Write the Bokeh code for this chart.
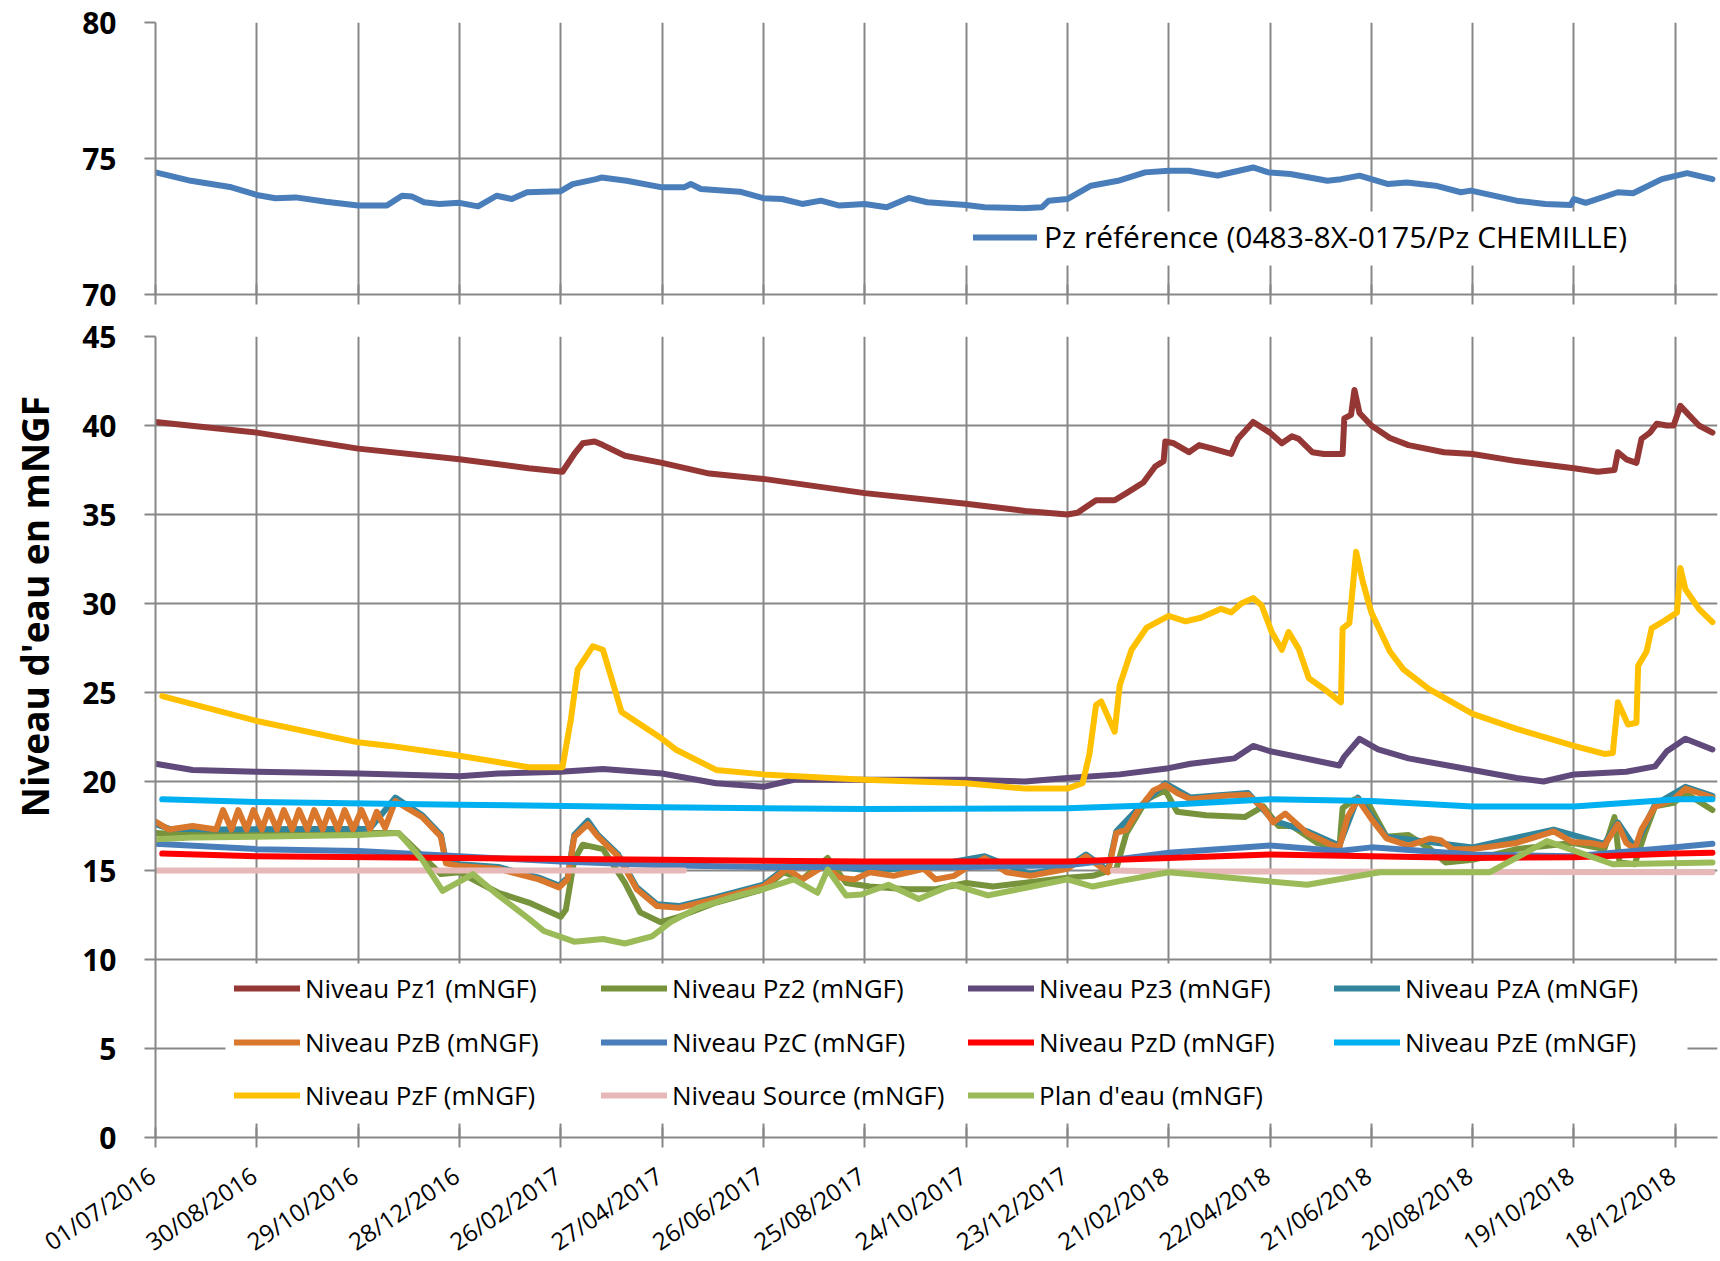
import pandas as pd
from math import pi, radians
from bokeh.plotting import figure
from bokeh.models import (FixedTicker, DatetimeTickFormatter, Range1d, Legend, LegendItem,
                          BoxAnnotation, Label)
from bokeh.core.properties import value
from bokeh.layouts import column, row
from bokeh.embed import file_html
from bokeh.resources import INLINE

# ---------------- data ----------------
tick_labels = ["01/07/2016", "30/08/2016", "29/10/2016", "28/12/2016", "26/02/2017", "27/04/2017",
               "26/06/2017", "25/08/2017", "24/10/2017", "23/12/2017", "21/02/2018", "22/04/2018",
               "21/06/2018", "20/08/2018", "19/10/2018", "18/12/2018"]
x_start, x_end = "01/07/2016", "12/01/2019"

ref_dates = ["01/07/2016", "22/07/2016", "15/08/2016", "30/08/2016", "10/09/2016", "22/09/2016", "10/10/2016",
             "29/10/2016", "15/11/2016", "24/11/2016", "30/11/2016", "07/12/2016", "16/12/2016", "28/12/2016",
             "08/01/2017", "19/01/2017", "28/01/2017", "06/02/2017", "26/02/2017", "05/03/2017", "19/03/2017",
             "22/03/2017", "06/04/2017", "27/04/2017", "10/05/2017", "14/05/2017", "20/05/2017", "12/06/2017",
             "26/06/2017", "07/07/2017", "19/07/2017", "30/07/2017", "10/08/2017", "25/08/2017", "07/09/2017",
             "20/09/2017", "01/10/2017", "24/10/2017", "04/11/2017", "27/11/2017", "08/12/2017", "12/12/2017",
             "23/12/2017", "06/01/2018", "22/01/2018", "07/02/2018", "21/02/2018", "05/03/2018", "22/03/2018",
             "26/03/2018", "12/04/2018", "21/04/2018", "04/05/2018", "26/05/2018", "03/06/2018", "14/06/2018",
             "01/07/2018", "12/07/2018", "29/07/2018", "13/08/2018", "19/08/2018", "15/09/2018", "02/10/2018",
             "17/10/2018", "19/10/2018", "26/10/2018", "14/11/2018", "23/11/2018", "10/12/2018", "25/12/2018",
             "09/01/2019"]
ref_values = [74.49, 74.18, 73.94, 73.66, 73.54, 73.57, 73.41,
              73.27, 73.27, 73.63, 73.60, 73.39, 73.33, 73.37,
              73.24, 73.63, 73.51, 73.76, 73.80, 74.06, 74.24,
              74.30, 74.18, 73.94, 73.94, 74.06, 73.88, 73.78,
              73.54, 73.51, 73.33, 73.45, 73.27, 73.33, 73.21,
              73.55, 73.39, 73.29, 73.21, 73.17, 73.21, 73.45,
              73.51, 74.00, 74.18, 74.49, 74.55, 74.55, 74.37,
              74.43, 74.67, 74.49, 74.43, 74.18, 74.24, 74.37,
              74.06, 74.12, 74.00, 73.76, 73.82, 73.45, 73.33,
              73.29, 73.51, 73.37, 73.76, 73.72, 74.24, 74.46,
              74.24]

pz1_dates = ["01/07/2016", "30/08/2016", "29/10/2016", "28/12/2016", "07/02/2017", "27/02/2017", "06/03/2017",
             "11/03/2017", "18/03/2017", "23/03/2017", "05/04/2017", "27/04/2017", "25/05/2017", "26/06/2017",
             "25/08/2017", "24/10/2017", "28/11/2017", "23/12/2017", "29/12/2017", "09/01/2018", "20/01/2018",
             "27/01/2018", "06/02/2018", "13/02/2018", "18/02/2018", "19/02/2018", "24/02/2018", "05/03/2018",
             "11/03/2018", "19/03/2018", "30/03/2018", "03/04/2018", "12/04/2018", "22/04/2018", "29/04/2018",
             "05/05/2018", "09/05/2018", "17/05/2018", "24/05/2018", "04/06/2018", "05/06/2018", "09/06/2018",
             "11/06/2018", "14/06/2018", "21/06/2018", "02/07/2018", "13/07/2018", "03/08/2018", "20/08/2018",
             "15/09/2018", "19/10/2018", "02/11/2018", "12/11/2018", "14/11/2018", "19/11/2018", "25/11/2018",
             "28/11/2018", "03/12/2018", "07/12/2018", "13/12/2018", "17/12/2018", "21/12/2018", "26/12/2018",
             "01/01/2019", "09/01/2019"]
pz1_values = [40.2, 39.6, 38.7, 38.1, 37.6, 37.4, 38.4,
              39.0, 39.1, 38.9, 38.3, 37.9, 37.3, 37.0,
              36.2, 35.6, 35.2, 35.0, 35.1, 35.8, 35.8,
              36.2, 36.8, 37.7, 38.0, 39.1, 39.0, 38.5,
              38.9, 38.7, 38.4, 39.25, 40.2, 39.6, 39.0,
              39.4, 39.25, 38.5, 38.4, 38.4, 40.4, 40.6,
              42.0, 40.7, 40.0, 39.3, 38.9, 38.5, 38.4,
              38.0, 37.6, 37.4, 37.5, 38.5, 38.1, 37.9,
              39.25, 39.6, 40.1, 40.0, 40.0, 41.1, 40.6,
              40.0, 39.6]

pz2_dates = ["01/07/2016", "23/07/2016", "30/08/2016", "29/10/2016", "22/11/2016", "06/12/2016", "17/12/2016",
             "28/12/2016", "20/01/2017", "07/02/2017", "26/02/2017", "01/03/2017", "06/03/2017", "11/03/2017",
             "23/03/2017", "05/04/2017", "14/04/2017", "26/04/2017", "07/05/2017", "29/05/2017", "26/06/2017",
             "08/07/2017", "19/07/2017", "03/08/2017", "14/08/2017", "28/08/2017", "19/09/2017", "06/10/2017",
             "24/10/2017", "09/11/2017", "27/11/2017", "23/12/2017", "07/01/2018", "21/01/2018", "27/01/2018",
             "08/02/2018", "19/02/2018", "26/02/2018", "15/03/2018", "07/04/2018", "18/04/2018", "27/04/2018",
             "05/05/2018", "20/05/2018", "02/06/2018", "04/06/2018", "11/06/2018", "19/06/2018", "30/06/2018",
             "13/07/2018", "26/07/2018", "04/08/2018", "20/08/2018", "15/09/2018", "18/10/2018", "06/11/2018",
             "12/11/2018", "15/11/2018", "24/11/2018", "30/11/2018", "06/12/2018", "17/12/2018", "24/12/2018",
             "09/01/2019"]
pz2_values = [17.1, 17.0, 17.05, 17.1, 17.1, 15.8, 14.8,
              14.9, 13.75, 13.2, 12.4, 12.8, 15.6, 16.45,
              16.2, 14.3, 12.65, 12.1, 12.4, 13.2, 13.95,
              14.9, 14.5, 15.7, 14.3, 14.1, 13.95, 13.95,
              14.3, 14.1, 14.3, 14.6, 14.7, 15.1, 17.1,
              19.0, 19.5, 18.3, 18.1, 18.0, 18.6, 17.5,
              17.5, 16.55, 16.2, 18.5, 19.0, 18.8, 16.9,
              17.0, 16.2, 15.45, 15.6, 16.2, 16.55, 16.2,
              18.0, 15.45, 15.35, 17.1, 18.6, 18.8, 19.35,
              18.4]

pz3_dates = ["01/07/2016", "23/07/2016", "30/08/2016", "29/10/2016", "28/12/2016", "20/01/2017", "26/02/2017",
             "23/03/2017", "27/04/2017", "29/05/2017", "26/06/2017", "14/07/2017", "25/08/2017", "24/10/2017",
             "28/11/2017", "23/12/2017", "23/01/2018", "21/02/2018", "06/03/2018", "01/04/2018", "12/04/2018",
             "22/04/2018", "02/06/2018", "05/06/2018", "14/06/2018", "25/06/2018", "13/07/2018", "20/08/2018",
             "15/09/2018", "01/10/2018", "19/10/2018", "19/11/2018", "06/12/2018", "13/12/2018", "24/12/2018",
             "09/01/2019"]
pz3_values = [21.0, 20.65, 20.55, 20.45, 20.3, 20.45, 20.55,
              20.7, 20.45, 19.9, 19.7, 20.1, 20.1, 20.1,
              20.0, 20.2, 20.4, 20.75, 21.0, 21.3, 22.0,
              21.7, 20.9, 21.4, 22.4, 21.8, 21.3, 20.65,
              20.2, 20.0, 20.4, 20.55, 20.85, 21.7, 22.4,
              21.8]

pza_dates = ["01/07/2016", "09/07/2016", "06/08/2016", "05/11/2016", "20/11/2016", "06/12/2016", "17/12/2016",
             "20/12/2016", "28/12/2016", "20/01/2017", "13/02/2017", "25/02/2017", "02/03/2017", "06/03/2017",
             "14/03/2017", "20/03/2017", "01/04/2017", "12/04/2017", "24/04/2017", "07/05/2017", "29/05/2017",
             "26/06/2017", "10/07/2017", "01/08/2017", "28/08/2017", "29/09/2017", "04/11/2017", "01/12/2017",
             "23/12/2017", "03/01/2018", "16/01/2018", "21/01/2018", "03/02/2018", "19/02/2018", "06/03/2018",
             "09/04/2018", "24/04/2018", "14/05/2018", "02/06/2018", "13/06/2018", "30/06/2018", "20/08/2018",
             "07/10/2018", "06/11/2018", "14/11/2018", "24/11/2018", "06/12/2018", "24/12/2018", "09/01/2019"]
pza_values = [17.6, 17.35, 17.3, 17.35, 19.1, 18.1, 17.0,
              15.5, 15.35, 15.2, 14.6, 14.15, 14.6, 17.0,
              17.8, 17.0, 15.9, 14.05, 13.1, 13.0, 13.5,
              14.2, 15.2, 15.3, 15.0, 15.2, 15.8, 14.8,
              15.2, 15.9, 15.0, 17.2, 18.5, 19.9, 19.1,
              19.35, 17.8, 17.2, 16.4, 19.1, 16.9, 16.3,
              17.3, 16.5, 17.7, 16.3, 18.7, 19.7, 19.2]

pzb_dates = ["01/07/2016", "09/07/2016", "23/07/2016", "06/08/2016", "10/08/2016", "15/08/2016", "19/08/2016",
             "24/08/2016", "28/08/2016", "02/09/2016", "06/09/2016", "11/09/2016", "15/09/2016", "20/09/2016",
             "24/09/2016", "29/09/2016", "03/10/2016", "08/10/2016", "12/10/2016", "17/10/2016", "21/10/2016",
             "26/10/2016", "31/10/2016", "05/11/2016", "09/11/2016", "14/11/2016", "20/11/2016", "06/12/2016",
             "17/12/2016", "20/12/2016", "28/12/2016", "20/01/2017", "13/02/2017", "25/02/2017", "02/03/2017",
             "06/03/2017", "14/03/2017", "20/03/2017", "01/04/2017", "12/04/2017", "24/04/2017", "07/05/2017",
             "29/05/2017", "26/06/2017", "10/07/2017", "19/07/2017", "01/08/2017", "10/08/2017", "19/08/2017",
             "28/08/2017", "11/09/2017", "29/09/2017", "06/10/2017", "17/10/2017", "26/10/2017", "04/11/2017",
             "17/11/2017", "01/12/2017", "23/12/2017", "03/01/2018", "16/01/2018", "21/01/2018", "27/01/2018",
             "03/02/2018", "12/02/2018", "19/02/2018", "26/02/2018", "06/03/2018", "27/03/2018", "09/04/2018",
             "18/04/2018", "24/04/2018", "01/05/2018", "14/05/2018", "27/05/2018", "02/06/2018", "07/06/2018",
             "13/06/2018", "21/06/2018", "30/06/2018", "13/07/2018", "26/07/2018", "01/08/2018", "08/08/2018",
             "20/08/2018", "15/09/2018", "07/10/2018", "18/10/2018", "29/10/2018", "06/11/2018", "14/11/2018",
             "19/11/2018", "24/11/2018", "28/11/2018", "06/12/2018", "17/12/2018", "24/12/2018", "09/01/2019"]
pzb_values = [17.75, 17.3, 17.5, 17.3, 18.4, 17.3, 18.4,
              17.3, 18.4, 17.3, 18.4, 17.3, 18.4, 17.3,
              18.4, 17.3, 18.4, 17.3, 18.4, 17.3, 18.4,
              17.3, 18.4, 17.3, 18.3, 17.4, 18.9, 18.0,
              16.9, 15.4, 15.25, 15.1, 14.5, 14.05, 14.5,
              16.9, 17.6, 16.9, 15.8, 13.95, 13.0, 12.9,
              13.4, 14.1, 15.1, 14.5, 15.25, 14.6, 14.5,
              14.9, 14.7, 15.1, 14.5, 14.7, 15.25, 15.7,
              14.9, 14.7, 15.1, 15.8, 14.9, 17.1, 17.3,
              18.4, 19.5, 19.8, 19.35, 19.0, 19.2, 19.25,
              18.5, 17.7, 18.2, 17.1, 16.5, 16.3, 18.0,
              19.0, 17.9, 16.8, 16.4, 16.8, 16.7, 16.2,
              16.2, 16.55, 17.2, 16.6, 16.55, 16.4, 17.6,
              16.55, 16.2, 17.3, 18.6, 19.0, 19.6, 19.1]

pzc_dates = ["01/07/2016", "30/08/2016", "29/10/2016", "28/12/2016", "26/02/2017", "27/04/2017", "26/06/2017",
             "25/08/2017", "24/10/2017", "23/12/2017", "20/01/2018", "21/02/2018", "22/04/2018", "02/06/2018",
             "21/06/2018", "20/08/2018", "19/10/2018", "18/12/2018", "09/01/2019"]
pzc_values = [16.5, 16.2, 16.1, 15.8, 15.5, 15.3, 15.2,
              15.2, 15.2, 15.3, 15.6, 16.0, 16.4, 16.1,
              16.3, 15.9, 15.8, 16.3, 16.5]

pzd_dates = ["05/07/2016", "30/08/2016", "28/12/2016", "27/04/2017", "25/08/2017", "23/12/2017", "21/02/2018",
             "22/04/2018", "21/06/2018", "20/08/2018", "19/10/2018", "18/12/2018", "09/01/2019"]
pzd_values = [15.95, 15.8, 15.7, 15.6, 15.5, 15.5, 15.7,
              15.9, 15.8, 15.7, 15.75, 15.95, 16.0]

pze_dates = ["05/07/2016", "30/08/2016", "28/12/2016", "27/04/2017", "25/08/2017", "23/12/2017", "21/02/2018",
             "22/04/2018", "21/06/2018", "20/08/2018", "19/10/2018", "20/12/2018", "09/01/2019"]
pze_values = [19.0, 18.85, 18.7, 18.55, 18.45, 18.5, 18.7,
              19.0, 18.9, 18.6, 18.6, 19.0, 19.0]

pzf_dates = ["05/07/2016", "30/08/2016", "29/10/2016", "17/11/2016", "28/12/2016", "07/02/2017", "27/02/2017",
             "04/03/2017", "08/03/2017", "17/03/2017", "23/03/2017", "03/04/2017", "27/04/2017", "05/05/2017",
             "29/05/2017", "26/06/2017", "25/08/2017", "24/10/2017", "28/11/2017", "23/12/2017", "01/01/2018",
             "05/01/2018", "09/01/2018", "12/01/2018", "20/01/2018", "23/01/2018", "30/01/2018", "08/02/2018",
             "21/02/2018", "03/03/2018", "12/03/2018", "24/03/2018", "30/03/2018", "05/04/2018", "12/04/2018",
             "17/04/2018", "23/04/2018", "29/04/2018", "03/05/2018", "09/05/2018", "15/05/2018", "24/05/2018",
             "03/06/2018", "04/06/2018", "08/06/2018", "12/06/2018", "16/06/2018", "21/06/2018", "02/07/2018",
             "10/07/2018", "25/07/2018", "20/08/2018", "15/09/2018", "19/10/2018", "06/11/2018", "11/11/2018",
             "14/11/2018", "20/11/2018", "25/11/2018", "26/11/2018", "01/12/2018", "04/12/2018", "11/12/2018",
             "19/12/2018", "21/12/2018", "24/12/2018", "01/01/2019", "09/01/2019"]
pzf_values = [24.8, 23.4, 22.2, 22.0, 21.45, 20.8, 20.8,
              23.5, 26.3, 27.6, 27.4, 23.9, 22.4, 21.8,
              20.65, 20.4, 20.1, 19.9, 19.6, 19.6, 19.9,
              21.5, 24.3, 24.5, 22.8, 25.4, 27.4, 28.65,
              29.3, 29.0, 29.2, 29.7, 29.5, 30.0, 30.3,
              29.9, 28.4, 27.4, 28.4, 27.45, 25.8, 25.2,
              24.45, 28.6, 28.9, 32.9, 31.2, 29.5, 27.3,
              26.3, 25.2, 23.8, 22.96, 22.0, 21.55, 21.6,
              24.45, 23.2, 23.3, 26.5, 27.3, 28.6, 29.0,
              29.5, 32.0, 30.8, 29.7, 28.95]

source_dates = ["01/07/2016", "10/05/2017", "11/05/2017", "19/01/2018", "21/02/2018", "09/01/2019"]
source_values = [15.0, 15.0, float("nan"), 15.0, 14.95, 14.9]

plan_dates = ["01/07/2016", "23/07/2016", "30/08/2016", "29/10/2016", "22/11/2016", "06/12/2016", "18/12/2016",
              "05/01/2017", "20/01/2017", "07/02/2017", "16/02/2017", "06/03/2017", "23/03/2017", "05/04/2017",
              "21/04/2017", "02/05/2017", "18/05/2017", "11/06/2017", "26/06/2017", "14/07/2017", "28/07/2017",
              "03/08/2017", "14/08/2017", "23/08/2017", "08/09/2017", "26/09/2017", "16/10/2017", "06/11/2017",
              "27/11/2017", "23/12/2017", "07/01/2018", "23/01/2018", "21/02/2018", "14/05/2018", "26/06/2018",
              "30/08/2018", "03/10/2018", "11/11/2018", "09/01/2019"]
plan_values = [16.75, 16.85, 16.9, 17.0, 17.1, 15.6, 13.85,
               14.8, 13.6, 12.3, 11.6, 11.0, 11.15, 10.9,
               11.3, 12.1, 12.9, 13.6, 13.95, 14.5, 13.75,
               15.05, 13.6, 13.65, 14.2, 13.4, 14.2, 13.6,
               14.0, 14.5, 14.1, 14.4, 14.9, 14.2, 14.9,
               14.9, 16.65, 15.35, 15.45]

series = [
    ("Niveau Pz1 (mNGF)", pz1_dates, pz1_values, "#953735"),
    ("Niveau Pz2 (mNGF)", pz2_dates, pz2_values, "#77933C"),
    ("Niveau Pz3 (mNGF)", pz3_dates, pz3_values, "#604A7B"),
    ("Niveau PzA (mNGF)", pza_dates, pza_values, "#31859C"),
    ("Niveau PzB (mNGF)", pzb_dates, pzb_values, "#D9782D"),
    ("Niveau PzC (mNGF)", pzc_dates, pzc_values, "#4A7EBB"),
    ("Niveau PzD (mNGF)", pzd_dates, pzd_values, "#FF0000"),
    ("Niveau PzE (mNGF)", pze_dates, pze_values, "#00B0F0"),
    ("Niveau PzF (mNGF)", pzf_dates, pzf_values, "#FFC000"),
    ("Niveau Source (mNGF)", source_dates, source_values, "#E6B9B8"),
    ("Plan d'eau (mNGF)", plan_dates, plan_values, "#9BBB59"),
]
ref_label = "Pz référence (0483-8X-0175/Pz CHEMILLE)"
y_title = "Niveau d'eau en mNGF"


def to_dt(lst):
    return pd.to_datetime(lst, format="%d/%m/%Y")


def to_ms(lst):
    return [t.timestamp() * 1000.0 for t in to_dt(lst)]


GRID = "#878787"
FONT = "Open Sans"
LW = 6
TITLE_W = 70
FRAME_LEFT = 155          # page x of the plot frames
FRAME_W = 1562
TOP_H = 22 + 272 + 20     # top figure height
BOT_H = 22 + 801 + 21     # bottom figure height (tick marks only below)
STRIP_H = 102             # strip carrying the rotated date labels
tick_ms = to_ms(tick_labels)
xr = Range1d(start=to_ms([x_start])[0], end=to_ms([x_end])[0])
fmt = "%d/%m/%Y"
dfmt = DatetimeTickFormatter(microseconds=fmt, milliseconds=fmt, seconds=fmt, minsec=fmt, minutes=fmt,
                             hourmin=fmt, hours=fmt, days=fmt, months=fmt, years=fmt)


def style(p, yticks):
    p.outline_line_color = None
    p.background_fill_color = "white"
    p.xaxis.ticker = FixedTicker(ticks=tick_ms)
    p.yaxis.ticker = FixedTicker(ticks=yticks)
    p.xgrid.ticker = FixedTicker(ticks=tick_ms)
    p.ygrid.ticker = FixedTicker(ticks=yticks)
    for g in (p.xgrid, p.ygrid):
        g.grid_line_color = GRID
        g.grid_line_width = 2
    p.xaxis.formatter = dfmt
    for ax in (p.xaxis, p.yaxis):
        ax.axis_line_color = GRID
        ax.axis_line_width = 2
        ax.major_tick_line_color = GRID
        ax.major_tick_line_width = 2
        ax.minor_tick_line_color = None
    p.xaxis.major_tick_in = 10
    p.xaxis.major_tick_out = 10
    p.xaxis.major_label_text_font_size = "0px"
    p.xaxis.major_label_text_alpha = 0
    p.xaxis.major_label_standoff = 0
    p.yaxis.major_tick_in = 0
    p.yaxis.major_tick_out = 11
    p.yaxis.major_label_standoff = 28
    p.yaxis.major_label_text_font = FONT
    p.yaxis.major_label_text_font_style = "bold"
    p.yaxis.major_label_text_font_size = "30px"
    p.yaxis.major_label_text_color = "#000000"


def legend_item(p, label, r, x, ycenter, font_size, glyph_w, standoff):
    h = 40
    lg = Legend(items=[LegendItem(label=label, renderers=[r])], location=(x, ycenter - h / 2),
                orientation="vertical", padding=0, margin=0, spacing=0,
                background_fill_alpha=0, border_line_color=None,
                glyph_width=glyph_w, glyph_height=h, label_height=h, label_standoff=standoff,
                label_text_font=FONT, label_text_font_size=font_size, label_text_color="#000000")
    p.add_layout(lg, "center")


# ---------------- top panel ----------------
top = figure(frame_width=FRAME_W, frame_height=272, x_axis_type="datetime", x_range=xr,
             y_range=Range1d(70, 80), output_backend="svg", toolbar_location=None,
             min_border_left=FRAME_LEFT - TITLE_W, min_border_right=1, min_border_top=22, min_border_bottom=20)
style(top, [70, 75, 80])
r_ref = top.line(to_dt(ref_dates), ref_values, line_color="#4A7EBB", line_width=LW,
                 line_join="round", line_cap="round")
top.add_layout(BoxAnnotation(left=800, right=1485, bottom=29, top=83,
                             left_units="screen", right_units="screen",
                             bottom_units="screen", top_units="screen",
                             fill_color="white", fill_alpha=1, line_color=None), "center")
legend_item(top, ref_label, r_ref, 818, 57, "30px", 64, 7)

# ---------------- bottom panel ----------------
bot = figure(frame_width=FRAME_W, frame_height=801, x_axis_type="datetime", x_range=xr,
             y_range=Range1d(0, 45), output_backend="svg", toolbar_location=None,
             min_border_left=FRAME_LEFT - TITLE_W, min_border_right=1, min_border_top=22, min_border_bottom=21)
style(bot, list(range(0, 50, 5)))
renderers = []
for name, d, v, c in series:
    r = bot.line(to_dt(d), v, line_color=c, line_width=LW, line_join="round", line_cap="round")
    renderers.append(r)

bot.add_layout(BoxAnnotation(left=70, right=1532, bottom=14, top=174,
                             left_units="screen", right_units="screen",
                             bottom_units="screen", top_units="screen",
                             fill_color="white", fill_alpha=1, line_color=None), "center")
col_x = [79, 446, 813, 1179]
row_y = [149, 95, 42]
for i, (name, d, v, c) in enumerate(series):
    legend_item(bot, name, renderers[i], col_x[i % 4], row_y[i // 4], "26px", 66, 5)

# ---------------- y title (narrow canvas on the left) ----------------
TITLE_H = TOP_H + BOT_H
tfig = figure(width=TITLE_W, height=TITLE_H, x_range=Range1d(0, 1), y_range=Range1d(0, 1),
              x_axis_location=None, y_axis_location=None, output_backend="svg", toolbar_location=None,
              min_border=0, outline_line_color=None)
tfig.grid.visible = False
tfig.add_layout(Label(x=34, y=TITLE_H - 606, x_units="screen", y_units="screen", text=y_title,
                      angle=pi / 2, text_font=FONT, text_font_style="bold", text_font_size="37px",
                      text_align="center", text_baseline="middle", text_color="#000000"))

# ---------------- date labels strip (same time scale, wider frame on the left) ----------------
ms_per_px = (xr.end - xr.start) / FRAME_W
strip = figure(frame_width=FRAME_LEFT + FRAME_W, frame_height=STRIP_H, x_axis_type="datetime",
               x_range=Range1d(xr.start - FRAME_LEFT * ms_per_px, xr.end), y_range=Range1d(0, STRIP_H),
               x_axis_location=None, y_axis_location=None, output_backend="svg", toolbar_location=None,
               min_border=0, min_border_right=1, outline_line_color=None)
strip.grid.visible = False
strip.text(x=to_dt(tick_labels), y=[STRIP_H - 14] * len(tick_labels), text=tick_labels,
           angle=radians(34), text_align="right", text_baseline="middle", x_offset=-3,
           text_font=value(FONT), text_font_size=value("24px"), text_color="#000000")

layout = column(row(tfig, column(top, bot, spacing=0), spacing=0), strip, spacing=0)
open("out.html", "w").write(file_html(layout, INLINE))
